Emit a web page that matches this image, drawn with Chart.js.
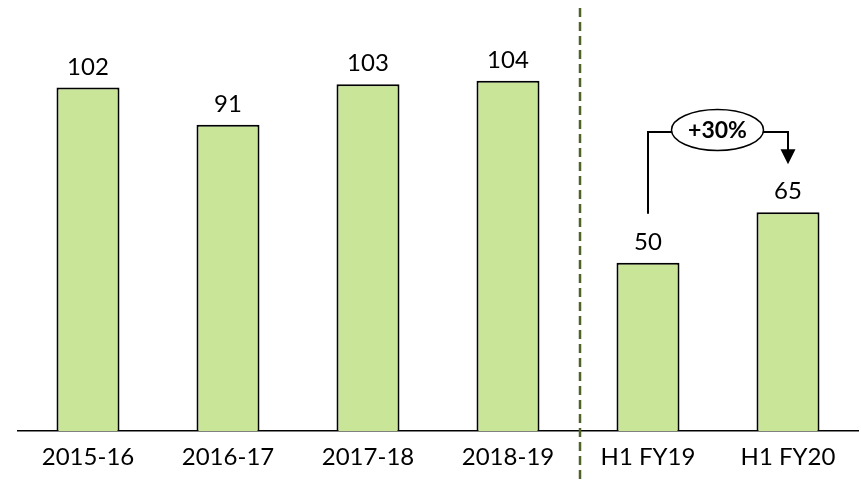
<!DOCTYPE html>
<html>
<head>
  <meta charset="UTF-8">
  <title>Bar chart</title>
  <script src="https://cdn.jsdelivr.net/npm/chart.js@4.4.1/dist/chart.umd.min.js"></script>
  <style>
    html, body { margin: 0; padding: 0; background: #fff; }
    #wrap { width: 861px; height: 484px; }
  </style>
</head>
<body>
<div id="wrap"><canvas id="myChart" width="861" height="484"></canvas></div>
<script>
  // periods and values shown on the bars
  var labels = ["2015-16", "2016-17", "2017-18", "2018-19", "H1 FY19", "H1 FY20"];
  var values = [102, 91, 103, 104, 50, 65];
  // growth callout between the two half-year bars
  var growthFrom = 4, growthTo = 5;
  var growthText = "+30%";

  var FONT = "Lato, 'Open Sans', sans-serif";

  // labels above the bars
  var valueLabels = {
    id: "valueLabels",
    afterDatasetsDraw: function(chart) {
      var ctx = chart.ctx;
      var meta = chart.getDatasetMeta(0);
      ctx.save();
      ctx.fillStyle = "#000";
      ctx.font = "24px " + FONT;
      ctx.textAlign = "center";
      ctx.textBaseline = "alphabetic";
      meta.data.forEach(function(bar, i) {
        ctx.fillText(values[i], bar.x, bar.y - 13);
      });
      ctx.restore();
    }
  };

  // dashed separator between full years and half years, plus the growth bracket
  var extras = {
    id: "extras",
    afterDraw: function(chart) {
      var ctx = chart.ctx;
      var xs = chart.scales.x, ys = chart.scales.y;
      ctx.save();

      var sepX = (xs.getPixelForValue(3) + xs.getPixelForValue(4)) / 2 + 2;
      ctx.strokeStyle = "#4F6228";
      ctx.lineWidth = 2.5;
      ctx.setLineDash([9, 5]);
      ctx.beginPath();
      ctx.moveTo(sepX, 8);
      ctx.lineTo(sepX, chart.height);
      ctx.stroke();
      ctx.setLineDash([]);

      var x1 = xs.getPixelForValue(growthFrom);
      var x2 = xs.getPixelForValue(growthTo);
      var y1 = ys.getPixelForValue(values[growthFrom]) - 49;
      var y2 = ys.getPixelForValue(values[growthTo]) - 48;
      var topY = 132;
      ctx.strokeStyle = "#000";
      ctx.lineWidth = 2;
      ctx.beginPath();
      ctx.moveTo(x1, y1);
      ctx.lineTo(x1, topY);
      ctx.lineTo(x2, topY);
      ctx.lineTo(x2, y2 - 14);
      ctx.stroke();
      ctx.fillStyle = "#000";
      ctx.beginPath();
      ctx.moveTo(x2 - 7.5, y2 - 15);
      ctx.lineTo(x2 + 7.5, y2 - 15);
      ctx.lineTo(x2, y2);
      ctx.closePath();
      ctx.fill();

      var cx = (x1 + x2) / 2 - 0.5, cy = 130;
      ctx.beginPath();
      ctx.ellipse(cx, cy, 46, 20.5, 0, 0, Math.PI * 2);
      ctx.fillStyle = "#fff";
      ctx.fill();
      ctx.lineWidth = 1.5;
      ctx.stroke();
      ctx.fillStyle = "#000";
      ctx.font = "bold 23px " + FONT;
      ctx.textAlign = "center";
      ctx.textBaseline = "middle";
      ctx.fillText(growthText, cx, cy + 1);
      ctx.restore();
    }
  };

  new Chart(document.getElementById("myChart"), {
    type: "bar",
    data: {
      labels: labels,
      datasets: [{
        data: values,
        backgroundColor: "#C9E597",
        borderColor: "#000",
        borderWidth: 2,
        borderSkipped: "bottom",
        categoryPercentage: 1,
        barPercentage: 0.45
      }]
    },
    options: {
      responsive: false,
      animation: false,
      layout: { padding: { left: 18, right: 3, top: 0, bottom: 0 } },
      plugins: { legend: { display: false }, tooltip: { enabled: false } },
      scales: {
        x: {
          grid: { display: false, drawTicks: false },
          border: { display: true, color: "#000", width: 1.5 },
          ticks: { color: "#000", font: { size: 24, family: FONT }, padding: 12 }
        },
        y: {
          display: false,
          min: 0,
          max: 128
        }
      }
    },
    plugins: [valueLabels, extras]
  });
</script>
</body>
</html>
